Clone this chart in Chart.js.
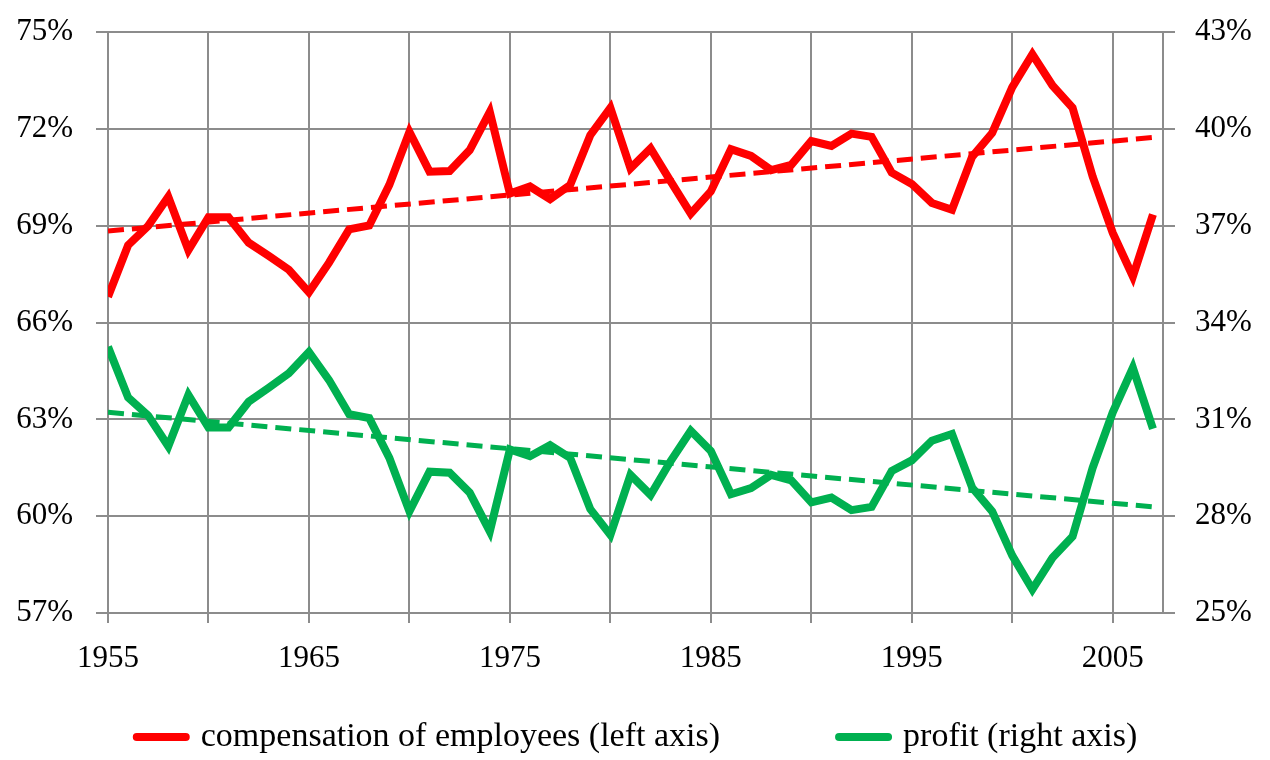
<!DOCTYPE html>
<html>
<head>
<meta charset="utf-8">
<script src="https://cdn.jsdelivr.net/npm/chart.js@4.4.1/dist/chart.umd.min.js"></script>
<style>
  html, body { margin: 0; background: #fff; }
</style>
</head>
<body>
<canvas id="chart" width="1270" height="760"></canvas>
<script>
// data
const years = [1955, 1956, 1957, 1958, 1959, 1960, 1961, 1962, 1963, 1964,
  1965, 1966, 1967, 1968, 1969, 1970, 1971, 1972, 1973, 1974,
  1975, 1976, 1977, 1978, 1979, 1980, 1981, 1982, 1983, 1984,
  1985, 1986, 1987, 1988, 1989, 1990, 1991, 1992, 1993, 1994,
  1995, 1996, 1997, 1998, 1999, 2000, 2001, 2002, 2003, 2004,
  2005, 2006, 2007];

const compensation = [66.8, 68.4, 69.0, 69.9, 68.25, 69.27, 69.27, 68.48, 68.07, 67.64,
  66.94, 67.86, 68.89, 69.01, 70.27, 71.91, 70.68, 70.7, 71.35, 72.53,
  70.0, 70.22, 69.83, 70.27, 71.81, 72.66, 70.78, 71.4, 70.38, 69.38,
  70.07, 71.38, 71.17, 70.73, 70.89, 71.63, 71.48, 71.86, 71.76, 70.65,
  70.3, 69.71, 69.5, 71.14, 71.88, 73.3, 74.32, 73.35, 72.66, 70.53,
  68.78, 67.43, 69.35];

const profit = [33.25, 31.68, 31.12, 30.17, 31.76, 30.75, 30.75, 31.55, 31.98, 32.43,
  33.09, 32.22, 31.16, 31.04, 29.81, 28.15, 29.38, 29.35, 28.73, 27.53,
  30.07, 29.86, 30.2, 29.81, 28.22, 27.42, 29.28, 28.66, 29.71, 30.65,
  30.02, 28.68, 28.87, 29.28, 29.11, 28.43, 28.58, 28.19, 28.29, 29.4,
  29.73, 30.34, 30.55, 28.89, 28.15, 26.78, 25.73, 26.71, 27.37, 29.5,
  31.22, 32.6, 30.71];

// trend lines, ends
const trendYears = [1955, 2007];
const compensationTrend = [68.84, 71.74];
const profitTrend = [31.22, 28.29];

// gridlines every 5 years, labels every 10
const gridYears = [1955, 1960, 1965, 1970, 1975, 1980, 1985, 1990, 1995, 2000, 2005];
const labelYears = [1955, 1965, 1975, 1985, 1995, 2005];

const labels = ["compensation of employees (left axis)", "profit (right axis)"];

const red = "#ff0000";
const green = "#00b050";
const gridColor = "#8c8c8c";
const fontFamily = '"Liberation Serif", "Times New Roman", serif';

Chart.defaults.font.family = fontFamily;
Chart.defaults.color = "#000";

function points(xs, ys) {
  return xs.map((x, i) => ({ x: x, y: ys[i] }));
}

// legend under the chart: line sample + text, wide gap between the two
const bottomLegend = {
  id: "bottomLegend",
  afterDraw(chart) {
    let c = chart.ctx;
    let items = chart.data.datasets.slice(0, 2);
    let sample = 57, gap = 11, between = 115, y = 737;
    c.save();
    c.font = "34px " + fontFamily;
    c.textBaseline = "middle";
    let widths = items.map(d => sample + gap + c.measureText(d.label).width);
    let x = (chart.width - (widths[0] + widths[1] + between)) / 2;
    items.forEach((d, i) => {
      c.strokeStyle = d.borderColor;
      c.lineWidth = 8;
      c.lineCap = "round";
      c.beginPath();
      c.moveTo(x + 4, y);
      c.lineTo(x + sample - 4, y);
      c.stroke();
      c.fillStyle = "#000";
      c.fillText(d.label, x + sample + gap, y);
      x += widths[i] + between;
    });
    c.restore();
  }
};

let ctx = document.getElementById("chart").getContext("2d");

new Chart(ctx, {
  type: "line",
  plugins: [bottomLegend],
  data: {
    datasets: [
      {
        label: labels[0],
        data: points(years, compensation),
        borderColor: red,
        borderWidth: 8,
        borderJoinStyle: "miter",
        pointRadius: 0,
        yAxisID: "yL"
      },
      {
        label: labels[1],
        data: points(years, profit),
        borderColor: green,
        borderWidth: 8,
        borderJoinStyle: "miter",
        pointRadius: 0,
        yAxisID: "yR"
      },
      {
        label: "trend1",
        data: points(trendYears, compensationTrend),
        borderColor: red,
        borderWidth: 5,
        borderDash: [16, 8],
        pointRadius: 0,
        yAxisID: "yL"
      },
      {
        label: "trend2",
        data: points(trendYears, profitTrend),
        borderColor: green,
        borderWidth: 5,
        borderDash: [16, 8],
        pointRadius: 0,
        yAxisID: "yR"
      }
    ]
  },
  options: {
    responsive: false,
    animation: false,
    layout: { padding: { top: 28, left: 0, right: 0, bottom: 0 } },
    plugins: {
      tooltip: { enabled: false },
      legend: { display: false }
    },
    scales: {
      x: {
        type: "linear",
        min: 1955,
        max: 2007.5,
        afterBuildTicks: s => {
          s.ticks = gridYears.map(v => ({ value: v }));
        },
        afterFit: s => { s.height = 147; },
        ticks: {
          autoSkip: false,
          maxRotation: 0,
          padding: 17,
          font: { size: 31 },
          callback: v => (labelYears.includes(v) ? String(v) : "")
        },
        grid: { color: gridColor, lineWidth: 2, tickLength: 10 },
        border: { color: gridColor, width: 2 }
      },
      yL: {
        position: "left",
        min: 57,
        max: 75,
        afterFit: s => { s.width = 108; },
        ticks: { stepSize: 3, padding: 23, font: { size: 31, lineHeight: 0.6 }, callback: v => v + "%" },
        grid: { color: gridColor, lineWidth: 2, tickLength: 12 },
        border: { color: gridColor, width: 2 }
      },
      yR: {
        position: "right",
        min: 25,
        max: 43,
        afterFit: s => { s.width = 107; },
        ticks: { stepSize: 3, padding: 20, font: { size: 31, lineHeight: 0.6 }, callback: v => v + "%" },
        grid: { drawOnChartArea: false, color: gridColor, lineWidth: 2, tickLength: 12 },
        border: { color: gridColor, width: 2 }
      }
    }
  }
});
</script>
</body>
</html>
